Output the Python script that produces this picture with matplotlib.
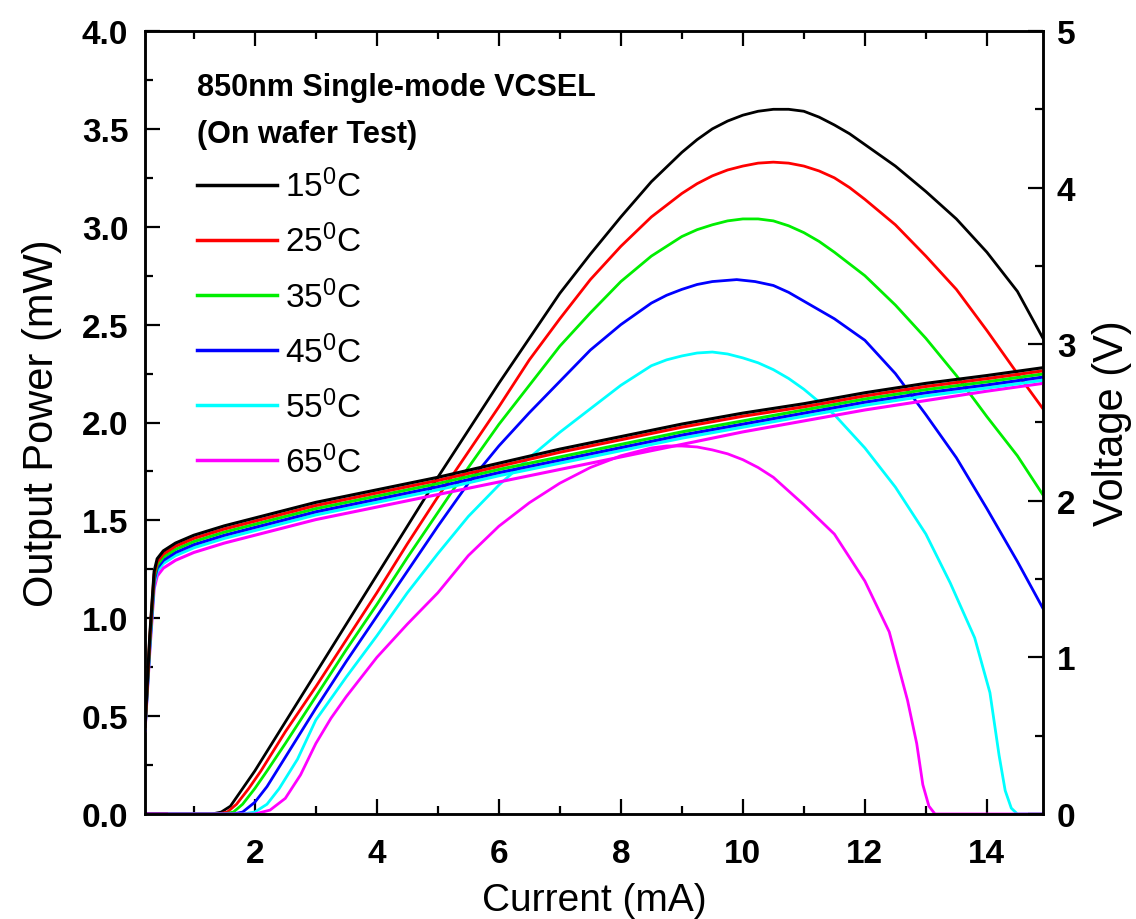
import matplotlib
matplotlib.use("Agg")
import matplotlib.pyplot as plt
from matplotlib.ticker import MultipleLocator

plt.rcParams['font.family'] = ['Liberation Sans', 'DejaVu Sans']
plt.rcParams['mathtext.fontset'] = 'custom'
plt.rcParams['mathtext.rm'] = 'Liberation Sans'
plt.rcParams['mathtext.it'] = 'Liberation Sans:italic'
plt.rcParams['mathtext.bf'] = 'Liberation Sans:bold'

temps = ["15", "25", "35", "45", "55", "65"]
colors = ["#000000", "#ff0000", "#00ee00", "#0000ff", "#00ffff", "#ff00ff"]

# ---- Output power (mW) vs current (mA) ----
x_L15 = [0.2, 1.3, 1.45, 1.6, 1.8, 2.0, 2.5, 3.0, 3.5, 4.0, 4.5, 5.0, 5.5, 6.0, 6.5, 7.0, 7.5, 8.0, 8.5, 9.0, 9.25, 9.5, 9.75, 10.0, 10.25, 10.5, 10.75, 11.0, 11.25, 11.5, 11.75, 12.0, 12.5, 13.0, 13.5, 14.0, 14.5, 14.92]
p_L15 = [0.0, 0.0, 0.01, 0.04, 0.13, 0.22, 0.47, 0.72, 0.97, 1.22, 1.47, 1.72, 1.96, 2.20, 2.43, 2.66, 2.86, 3.05, 3.23, 3.38, 3.445, 3.50, 3.54, 3.57, 3.59, 3.60, 3.60, 3.59, 3.56, 3.52, 3.475, 3.42, 3.31, 3.18, 3.04, 2.87, 2.67, 2.43]

x_L25 = [0.2, 1.4, 1.55, 1.7, 1.9, 2.1, 2.5, 3.0, 3.5, 4.0, 4.5, 5.0, 5.5, 6.0, 6.5, 7.0, 7.5, 8.0, 8.5, 9.0, 9.25, 9.5, 9.75, 10.0, 10.25, 10.5, 10.75, 11.0, 11.25, 11.5, 11.75, 12.0, 12.5, 13.0, 13.5, 14.0, 14.5, 14.92]
p_L25 = [0.0, 0.0, 0.01, 0.05, 0.13, 0.22, 0.42, 0.65, 0.89, 1.13, 1.38, 1.62, 1.85, 2.08, 2.32, 2.53, 2.73, 2.90, 3.05, 3.17, 3.22, 3.26, 3.29, 3.31, 3.325, 3.33, 3.325, 3.31, 3.285, 3.25, 3.20, 3.14, 3.01, 2.85, 2.68, 2.47, 2.25, 2.07]

x_L35 = [0.2, 1.5, 1.65, 1.8, 2.0, 2.2, 2.5, 3.0, 3.5, 4.0, 4.5, 5.0, 5.5, 6.0, 6.5, 7.0, 7.5, 8.0, 8.5, 9.0, 9.25, 9.5, 9.75, 10.0, 10.25, 10.5, 10.75, 11.0, 11.25, 11.5, 12.0, 12.5, 13.0, 13.5, 14.0, 14.5, 14.92]
p_L35 = [0.0, 0.0, 0.01, 0.05, 0.13, 0.22, 0.36, 0.60, 0.84, 1.07, 1.31, 1.54, 1.77, 1.99, 2.19, 2.39, 2.56, 2.72, 2.85, 2.95, 2.985, 3.01, 3.03, 3.04, 3.04, 3.03, 3.005, 2.97, 2.925, 2.87, 2.75, 2.60, 2.43, 2.24, 2.03, 1.83, 1.63]

x_L45 = [0.2, 1.65, 1.8, 2.0, 2.2, 2.5, 3.0, 3.5, 4.0, 4.5, 5.0, 5.5, 6.0, 6.5, 7.0, 7.5, 8.0, 8.5, 8.75, 9.0, 9.25, 9.5, 9.9, 10.2, 10.5, 10.75, 11.0, 11.5, 12.0, 12.5, 13.0, 13.5, 14.0, 14.5, 14.92]
p_L45 = [0.0, 0.0, 0.01, 0.06, 0.14, 0.29, 0.54, 0.78, 1.01, 1.24, 1.47, 1.69, 1.88, 2.05, 2.21, 2.37, 2.50, 2.61, 2.65, 2.68, 2.705, 2.72, 2.73, 2.72, 2.70, 2.665, 2.62, 2.53, 2.42, 2.25, 2.04, 1.82, 1.56, 1.29, 1.05]

x_L55 = [0.6, 1.8, 2.0, 2.2, 2.4, 2.7, 3.0, 3.5, 4.0, 4.5, 5.0, 5.5, 6.0, 6.5, 7.0, 7.5, 8.0, 8.5, 8.75, 9.0, 9.25, 9.5, 9.75, 10.0, 10.25, 10.5, 10.75, 11.0, 11.5, 12.0, 12.5, 13.0, 13.4, 13.8, 14.05, 14.2, 14.3, 14.4, 14.5, 14.92]
p_L55 = [0.0, 0.0, 0.01, 0.05, 0.13, 0.28, 0.48, 0.70, 0.91, 1.13, 1.33, 1.52, 1.68, 1.82, 1.95, 2.07, 2.19, 2.29, 2.32, 2.34, 2.355, 2.36, 2.35, 2.33, 2.305, 2.27, 2.225, 2.17, 2.04, 1.87, 1.67, 1.43, 1.18, 0.90, 0.62, 0.30, 0.12, 0.03, 0.0, 0.0]

x_L65 = [0.2, 2.0, 2.25, 2.5, 2.75, 3.0, 3.25, 3.5, 4.0, 4.5, 5.0, 5.5, 6.0, 6.5, 7.0, 7.5, 8.0, 8.5, 8.75, 9.0, 9.25, 9.5, 9.75, 10.0, 10.25, 10.5, 11.0, 11.5, 12.0, 12.4, 12.7, 12.85, 12.95, 13.05, 13.15, 14.92]
p_L65 = [0.0, 0.0, 0.02, 0.08, 0.20, 0.36, 0.49, 0.60, 0.80, 0.97, 1.13, 1.32, 1.47, 1.59, 1.69, 1.77, 1.83, 1.87, 1.88, 1.88, 1.875, 1.86, 1.84, 1.81, 1.77, 1.72, 1.58, 1.43, 1.19, 0.93, 0.58, 0.36, 0.15, 0.04, 0.0, 0.0]

# ---- Voltage (V) vs current (mA) ----
x_V = [0.2, 0.28, 0.35, 0.4, 0.5, 0.7, 1.0, 1.5, 2.0, 2.5, 3.0, 4.0, 5.0, 6.0, 7.0, 8.0, 9.0, 10.0, 11.0, 12.0, 13.0, 14.0, 14.92]
v_15 = [0.56, 1.15, 1.55, 1.63, 1.68, 1.73, 1.78, 1.84, 1.89, 1.94, 1.99, 2.07, 2.15, 2.24, 2.33, 2.41, 2.49, 2.56, 2.62, 2.69, 2.75, 2.80, 2.85]
v_25 = [0.55, 1.13, 1.53, 1.61, 1.66, 1.71, 1.76, 1.82, 1.87, 1.92, 1.97, 2.05, 2.13, 2.22, 2.31, 2.39, 2.47, 2.54, 2.60, 2.67, 2.73, 2.78, 2.83]
v_35 = [0.55, 1.11, 1.51, 1.59, 1.64, 1.69, 1.74, 1.80, 1.85, 1.90, 1.95, 2.03, 2.11, 2.20, 2.28, 2.36, 2.44, 2.51, 2.58, 2.65, 2.71, 2.76, 2.81]
v_45 = [0.54, 1.09, 1.49, 1.57, 1.62, 1.67, 1.72, 1.78, 1.83, 1.88, 1.93, 2.01, 2.09, 2.18, 2.26, 2.34, 2.42, 2.49, 2.56, 2.63, 2.69, 2.74, 2.79]
v_55 = [0.54, 1.07, 1.47, 1.55, 1.60, 1.65, 1.70, 1.76, 1.81, 1.86, 1.91, 1.99, 2.07, 2.16, 2.24, 2.32, 2.40, 2.47, 2.54, 2.61, 2.67, 2.72, 2.77]
v_65 = [0.53, 1.05, 1.44, 1.52, 1.57, 1.62, 1.67, 1.73, 1.78, 1.83, 1.88, 1.96, 2.04, 2.12, 2.20, 2.28, 2.36, 2.44, 2.51, 2.58, 2.64, 2.70, 2.75]

L_x = [x_L15, x_L25, x_L35, x_L45, x_L55, x_L65]
L_p = [p_L15, p_L25, p_L35, p_L45, p_L55, p_L65]
V_v = [v_15, v_25, v_35, v_45, v_55, v_65]

fig = plt.figure(figsize=(11.36, 9.2), dpi=100)
ax = fig.add_axes([145/1136, 105/920, 898/1136, 783/920])
ax2 = ax.twinx()

handles = []
for xs, ps, c, t in zip(L_x, L_p, colors, temps):
    h, = ax.plot(xs, ps, color=c, lw=2.0, label=t + r"$^{\mathrm{0}}$C",
                 solid_joinstyle='round')
    handles.append(h)

for vs, c in zip(V_v[::-1], colors[::-1]):
    ax2.plot(x_V, vs, color=c, lw=2.2, solid_joinstyle='round')

ax.set_xlim(0.2, 14.92)
ax.set_ylim(0, 4.0)
ax2.set_ylim(0, 5)

ax.xaxis.set_major_locator(MultipleLocator(2))
ax.xaxis.set_minor_locator(MultipleLocator(1))
ax.yaxis.set_major_locator(MultipleLocator(0.5))
ax.yaxis.set_minor_locator(MultipleLocator(0.25))
ax2.yaxis.set_major_locator(MultipleLocator(1))
ax2.yaxis.set_minor_locator(MultipleLocator(0.5))

ax.set_xticks([2, 4, 6, 8, 10, 12, 14])
ax.set_yticks([0, 0.5, 1.0, 1.5, 2.0, 2.5, 3.0, 3.5, 4.0])
ax.set_yticklabels(["0.0", "0.5", "1.0", "1.5", "2.0", "2.5", "3.0", "3.5", "4.0"])

ax.tick_params(axis='both', which='major', direction='in', length=11, width=1.6,
               labelsize=24, pad=12)
ax.tick_params(axis='both', which='minor', direction='in', length=6, width=1.6)
ax.tick_params(axis='x', which='both', top=True, bottom=True)
ax.tick_params(axis='x', which='major', pad=17)
ax.tick_params(axis='y', which='both', left=True, right=False)
ax2.tick_params(axis='y', which='major', direction='in', length=11, width=1.6,
                labelsize=24, pad=10)
ax2.tick_params(axis='y', which='minor', direction='in', length=6, width=1.6)

for lab in ax.get_xticklabels() + ax.get_yticklabels() + ax2.get_yticklabels():
    lab.set_fontweight('bold')

for a in (ax, ax2):
    for s in a.spines.values():
        s.set_linewidth(1.8)

ax.set_xlabel("Current (mA)", fontsize=28, labelpad=10)
ax.set_ylabel("Output Power (mW)", fontsize=30, labelpad=14)
ax2.set_ylabel("Voltage (V)", fontsize=30, labelpad=12)

ax.text(0.058, 0.929, "850nm Single-mode VCSEL", transform=ax.transAxes,
        fontsize=22, fontweight='bold', va='center', ha='left')
ax.text(0.058, 0.869, "(On wafer Test)", transform=ax.transAxes,
        fontsize=22, fontweight='bold', va='center', ha='left')

leg = ax.legend(handles=handles, loc='upper left', bbox_to_anchor=(0.058, 0.824),
                frameon=False, fontsize=24, handlelength=2.4, handletextpad=0.25,
                labelspacing=0.62, borderpad=0, borderaxespad=0)
for line in leg.get_lines():
    line.set_linewidth(2.5)

fig.savefig("out.png", dpi=100)
